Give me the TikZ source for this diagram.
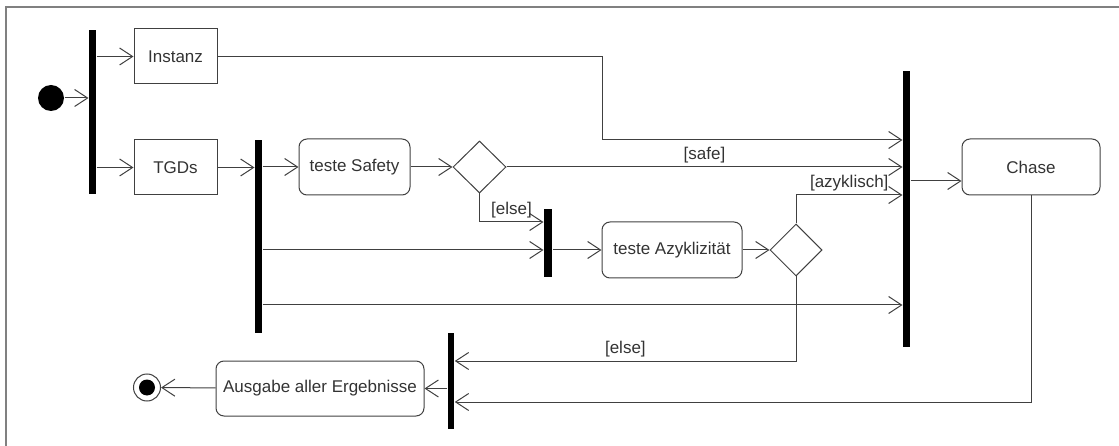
\documentclass[tikz,border=0pt]{standalone}
\usepackage{fontspec}
\setmainfont{Liberation Sans}
\usetikzlibrary{arrows.meta,shapes.geometric}
\definecolor{linegray}{HTML}{404040}
\definecolor{textgray}{HTML}{333333}

\begin{document}
\begin{tikzpicture}[x=1pt,y=-1pt,line width=1pt,
  font=\fontsize{17}{20}\selectfont,
  flow/.style={draw=linegray,-{Straight Barb[length=13pt,width=17pt]}},
  bar/.style={fill=black,inner sep=0pt,minimum width=7pt},
  action/.style={draw=linegray,rounded corners=8pt,inner sep=0pt,minimum height=56pt,text=textgray},
  object/.style={draw=linegray,inner sep=0pt,minimum width=83pt,minimum height=55pt,text=textgray},
  decision/.style={draw=linegray,diamond,inner sep=0pt,minimum width=53pt,minimum height=52pt},
  guard/.style={text=textgray,inner sep=3pt,above}]
\useasboundingbox (0,0) rectangle (1119,446);
\draw[gray,line width=2pt] (6,446) -- (6,7) -- (1119,7);

\node[circle,fill=black,inner sep=0pt,minimum size=26pt] (start) at (51,98) {};
\node[bar,minimum height=164pt] (fork1) at (92.5,112) {};
\node[object] (instanz) at (175.5,56.5) {Instanz};
\node[object] (tgds) at (175.5,167.5) {TGDs};
\node[bar,minimum height=193pt] (fork2) at (258.5,236.5) {};
\node[action,minimum width=111pt] (safety) at (354.5,167) {teste Safety};
\node[decision] (dec1) at (479.5,167) {};
\node[bar,minimum height=68pt,minimum width=8pt] (join1) at (548,243) {};
\node[action,minimum width=140pt] (azyk) at (672,250) {teste Azyklizität};
\node[decision,minimum width=52pt] (dec2) at (796,250) {};
\node[bar,minimum height=276pt] (join2) at (906.5,209) {};
\node[action,minimum width=138pt] (chase) at (1031,167) {Chase};
\node[bar,minimum height=96pt,minimum width=6.5pt] (join3) at (451,381) {};
\node[action,minimum width=208pt,minimum height=55pt] (ausgabe) at (320,388.5) {Ausgabe aller Ergebnisse};
\node[circle,draw=linegray,inner sep=0pt,minimum size=27pt] (end) at (147,387.5) {};
\node[circle,fill=black,inner sep=0pt,minimum size=16pt] (endcore) at (end) {};

\draw[flow] (start) -- (start -| fork1.west);
\draw[flow] (instanz.west -| fork1.east) -- (instanz);
\draw[flow] (tgds.west -| fork1.east) -- (tgds);
\draw[flow] (tgds) -- (tgds.east -| fork2.west);
\draw[flow] (safety.west -| fork2.east) -- (safety);
\draw[flow] (safety) -- (dec1);
\draw[flow] (instanz.east) -| (602,140) -- (602,140 -| join2.west);
\draw[flow] (dec1.east) -- node[guard] {[safe]} (dec1.east -| join2.west);
\draw[flow] (dec1.south) |- node[guard,pos=0.75] {[else]} (join1.west |- 0,222);
\draw[flow] (azyk.west -| fork2.east) -- (azyk.west -| join1.west);
\draw[flow] (azyk.west -| join1.east) -- (azyk);
\draw[flow] (azyk) -- (dec2);
\draw[flow] (dec2.north) |- node[guard,pos=0.75] {[azyklisch]} (join2.west |- 0,195);
\draw[flow] (fork2.east |- 0,305) -- (join2.west |- 0,305);
\draw[flow] ([yshift=-14pt]chase.west -| join2.east) -- ([yshift=-14pt]chase.west);
\draw[flow] (dec2.south) |- node[guard,pos=0.75] {[else]} (join3.east |- 0,361);
\draw[flow] (chase.south) |- (join3.east |- 0,402);
\draw[flow] (ausgabe.east -| join3.west) -- (ausgabe);
\draw[flow] (ausgabe) -- (end);
\end{tikzpicture}
\end{document}
